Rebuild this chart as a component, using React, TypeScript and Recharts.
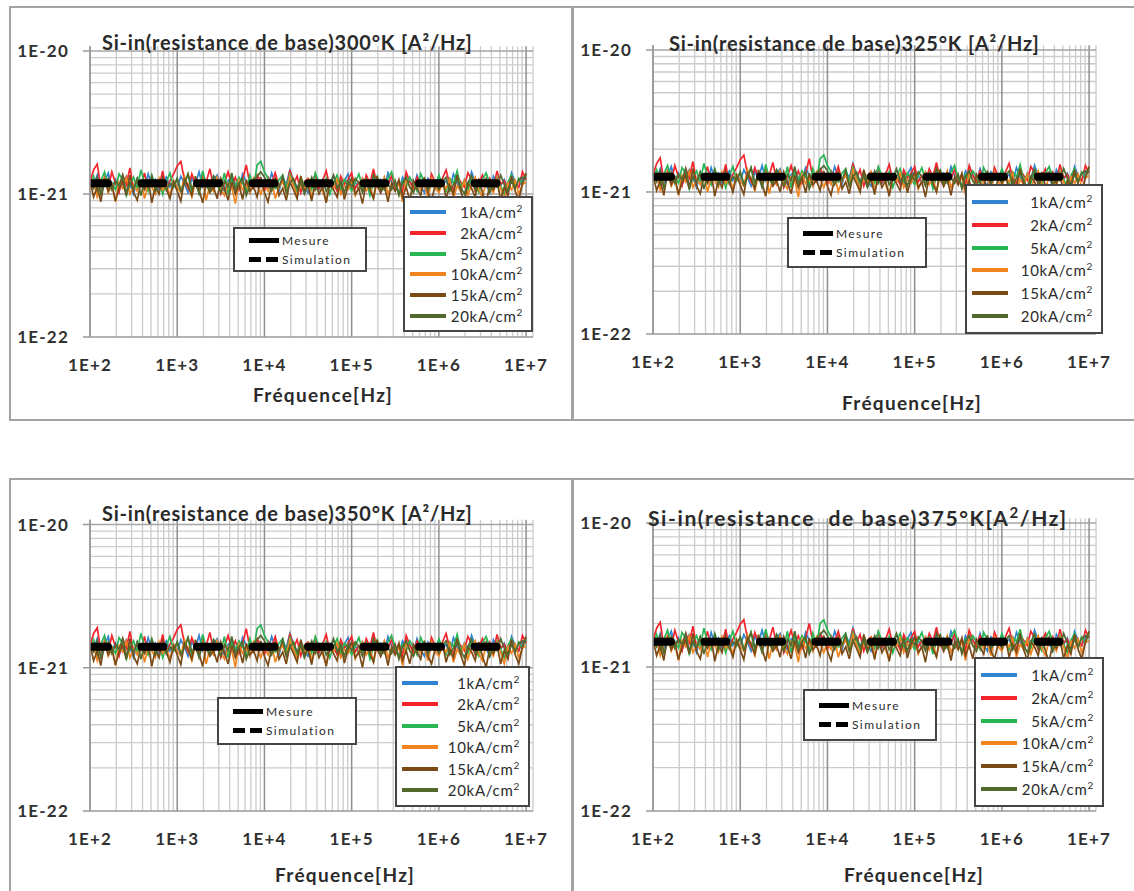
import React from "react";
import { LineChart, Line, XAxis, YAxis, ReferenceLine } from "recharts";

// frequency points (Hz), 24 per decade
const freqs = [
  100, 110, 121, 133, 147, 162, 178, 196, 215, 237, 261, 287, 316, 348, 383, 422, 464, 511, 562, 619, 681, 750, 825, 909,
  1000, 1100, 1210, 1330, 1470, 1620, 1780, 1960, 2150, 2370, 2610, 2870, 3160, 3480, 3830, 4220, 4640, 5110, 5620, 6190, 6810, 7500, 8250, 9090,
  10000, 11000, 12100, 13300, 14700, 16200, 17800, 19600, 21500, 23700, 26100, 28700, 31600, 34800, 38300, 42200, 46400, 51100, 56200, 61900, 68100, 75000, 82500, 90900,
  100000, 110000, 121000, 133000, 147000, 162000, 178000, 196000, 215000, 237000, 261000, 287000, 316000, 348000, 383000, 422000, 464000, 511000, 562000, 619000, 681000, 750000, 825000, 909000,
  1000000, 1100000, 1210000, 1330000, 1470000, 1620000, 1780000, 1960000, 2150000, 2370000, 2610000, 2870000, 3160000, 3480000, 3830000, 4220000, 4640000, 5110000, 5620000, 6190000, 6810000, 7500000, 8250000, 9090000,
  10000000,
];

// measured noise, % of the panel level
const dev1k = [
  108, 96, 114, 90, 102, 118, 94, 106, 88, 100, 112, 98, 84, 108, 102, 92, 116, 96, 106, 90, 100, 110, 94, 104,
  92, 112, 100, 86, 108, 98, 120, 94, 102, 90, 106, 114, 96, 88, 104, 110, 98, 92, 116, 102, 86, 100, 108, 96,
  106, 94, 118, 100, 88, 110, 98, 124, 104, 92, 108, 96, 86, 102, 114, 90, 100, 106, 94, 112, 98, 88, 104, 116,
  96, 102, 90, 108, 100, 86, 112, 98, 106, 92, 118, 102, 94, 88, 110, 100, 104, 92, 114, 96, 86, 108, 100, 94,
  110, 98, 104, 90, 116, 100, 88, 106, 94, 120, 102, 92, 108, 98, 86, 112, 100, 96, 106, 90, 118, 102, 94, 108,
  112,
];
const dev2k = [
  102, 124, 136, 94, 110, 92, 120, 100, 86, 114, 98, 128, 92, 106, 96, 118, 88, 108, 100, 94, 122, 90, 104, 116,
  132, 142, 106, 92, 116, 98, 88, 112, 102, 126, 94, 108, 84, 100, 120, 96, 110, 90, 106, 134, 98, 92, 114, 102,
  88, 110, 100, 118, 94, 106, 90, 124, 98, 112, 86, 102, 108, 96, 116, 92, 104, 122, 94, 100, 88, 112, 98, 106,
  118, 92, 102, 90, 114, 100, 126, 96, 86, 108, 98, 112, 94, 104, 88, 120, 102, 92, 110, 98, 106, 90, 116, 100,
  94, 108, 124, 98, 90, 112, 102, 94, 118, 106, 88, 100, 114, 96, 108, 92, 122, 98, 104, 90, 112, 100, 94, 120,
  106,
];
const dev5k = [
  96, 112, 86, 104, 120, 94, 100, 90, 116, 106, 82, 98, 110, 92, 124, 100, 88, 114, 96, 106, 84, 102, 118, 94,
  108, 90, 100, 116, 86, 104, 94, 122, 98, 88, 112, 102, 92, 118, 84, 106, 96, 110, 100, 88, 114, 94, 134, 142,
  120, 108, 96, 92, 106, 114, 92, 116, 100, 86, 110, 96, 104, 90, 118, 102, 94, 108, 84, 100, 114, 92, 106, 98,
  88, 102, 116, 94, 106, 82, 100, 112, 96, 90, 108, 120, 98, 86, 104, 94, 110, 100, 88, 116, 102, 92, 106, 96,
  114, 98, 88, 108, 100, 122, 94, 104, 90, 112, 96, 86, 106, 118, 100, 92, 110, 96, 84, 102, 114, 94, 108, 98,
  116,
];
const dev10k = [
  90, 104, 80, 96, 108, 86, 98, 74, 102, 92, 110, 84, 96, 88, 106, 78, 100, 94, 84, 108, 90, 98, 82, 104,
  94, 86, 112, 96, 80, 102, 90, 106, 76, 98, 88, 110, 92, 82, 100, 94, 72, 104, 90, 98, 86, 108, 96, 84,
  100, 88, 106, 78, 94, 102, 86, 112, 96, 82, 98, 90, 108, 80, 94, 104, 88, 76, 100, 92, 106, 84, 96, 90,
  104, 82, 94, 108, 88, 98, 78, 102, 92, 110, 84, 96, 88, 100, 74, 106, 94, 86, 102, 90, 98, 80, 108, 92,
  86, 100, 92, 106, 78, 96, 88, 104, 82, 98, 110, 90, 80, 102, 94, 86, 108, 92, 76, 100, 90, 104, 84, 98,
  102,
];
const dev15k = [
  104, 80, 94, 74, 108, 88, 98, 75, 92, 102, 82, 114, 86, 76, 100, 90, 106, 73, 96, 84, 110, 92, 78, 102,
  88, 75, 106, 96, 82, 112, 90, 73, 100, 86, 94, 78, 108, 92, 76, 102, 84, 98, 77, 106, 88, 94, 80, 110,
  86, 74, 98, 108, 82, 92, 76, 102, 90, 78, 112, 88, 96, 75, 104, 84, 94, 73, 100, 90, 80, 106, 77, 96,
  108, 84, 92, 72, 102, 90, 78, 112, 86, 96, 74, 100, 88, 106, 80, 94, 76, 104, 92, 82, 110, 86, 76, 98,
  90, 106, 78, 96, 84, 114, 88, 74, 100, 92, 80, 108, 86, 72, 98, 90, 104, 76, 94, 82, 112, 88, 76, 100,
  118,
];
const dev20k = [
  102, 92, 110, 84, 98, 108, 90, 104, 96, 114, 86, 100, 92, 108, 82, 102, 94, 112, 88, 98, 106, 90, 100, 94,
  108, 88, 98, 116, 92, 102, 84, 106, 96, 90, 112, 100, 86, 104, 94, 118, 90, 100, 108, 82, 96, 106, 112, 120,
  110, 98, 88, 104, 94, 112, 86, 100, 108, 92, 102, 84, 96, 110, 90, 100, 106, 88, 98, 114, 92, 102, 86, 104,
  94, 108, 100, 86, 102, 92, 114, 96, 88, 106, 98, 90, 104, 82, 100, 110, 94, 86, 102, 96, 108, 90, 98, 104,
  92, 102, 110, 88, 98, 106, 94, 84, 100, 112, 90, 102, 96, 108, 86, 100, 94, 114, 98, 88, 104, 92, 106, 110,
  108,
];

const densities = ["1", "2", "5", "10", "15", "20"];
const seriesColors = ["#3283d0", "#f4242c", "#27b653", "#f2841f", "#7a4a17", "#52692e"];
const temperatures = ["300", "325", "350", "375"];
const noiseLevels = [1.19e-21, 1.28e-21, 1.4e-21, 1.5e-21];
const simLevels = [1.19e-21, 1.28e-21, 1.4e-21, 1.5e-21];
const simRange = [100, 7100000];
const xTicks = [1e2, 1e3, 1e4, 1e5, 1e6, 1e7];
const yTicks = [1e-22, 1e-21, 1e-20];

const measureSeries = [dev1k, dev2k, dev5k, dev10k, dev15k, dev20k];

const X_DOMAIN = [100, 1.2e7];
const Y_DOMAIN = [1e-22, 1.08e-20];
const Y_SPAN = Math.log10(Y_DOMAIN[1] / Y_DOMAIN[0]);

// minor log grid positions
const minorX: number[] = [];
for (let e = 2; e <= 6; e++) for (let m = 2; m <= 9; m++) minorX.push(m * 10 ** e);
minorX.push(1.2e7);
const minorY: number[] = [];
for (let e = -22; e <= -21; e++) for (let m = 2; m <= 9; m++) minorY.push(m * 10 ** e);

const panels = [
  { left: 10, top: 7, h: 414, y20: 51, y22: 337, title: [102, 42], xTitle: [323, 395],
    leg1: [233, 227, 134, 45], leg2: [403, 196, 130, 136] },
  { left: 573, top: 7, h: 414, y20: 50, y22: 334, title: [669, 43], xTitle: [912, 403],
    leg1: [787, 217, 140, 51], leg2: [965, 184, 138, 150] },
  { left: 10, top: 479, h: 412, y20: 524.5, y22: 811, title: [102, 513], xTitle: [345, 875],
    leg1: [217, 697, 140, 48], leg2: [395, 666, 135, 141] },
  { left: 573, top: 479, h: 412, y20: 523, y22: 811, title: [648, 518], xTitle: [914, 875],
    leg1: [803, 689, 134, 52], leg2: [974, 657, 130, 150] },
];

const fmtExp = (v: number) => {
  const e = Math.round(Math.log10(v));
  return "1E" + (e >= 0 ? "+" + e : String(e));
};

const tickStyle = {
  fill: "#303030",
  fontSize: 17,
  fontFamily: "Lato",
  fontWeight: 700,
  letterSpacing: 1.2,
};

function Panel({ idx }: { idx: number }) {
  const p = panels[idx];
  const plotH = ((p.y22 - p.y20) * Y_SPAN) / 2;
  const plotTop = p.y22 - plotH;
  const mTop = plotTop - p.top;
  const xAxisH = 40;
  const mBottom = p.h - mTop - plotH - xAxisH;

  const seriesData = measureSeries.map((d) =>
    freqs.map((f, i) => ({ f, v: (noiseLevels[idx] * d[i]) / 100 }))
  );
  const simData = simRange.map((f) => ({ f, v: simLevels[idx] }));

  const T = temperatures[idx];
  const box = "2px solid #454545";
  const last = idx === 3;

  return (
    <>
      <div style={{ position: "absolute", left: p.left, top: p.top }}>
        <LineChart
          width={563}
          height={p.h}
          margin={{ top: mTop, right: 40, left: 0, bottom: mBottom }}
        >
          {minorX.map((v) => (
            <ReferenceLine key={"gx" + v} x={v} stroke="#cbcbcb" strokeWidth={1.3} />
          ))}
          {minorY.map((v) => (
            <ReferenceLine key={"gy" + v} y={v} stroke="#cbcbcb" strokeWidth={1.3} />
          ))}
          {xTicks.map((v) => (
            <ReferenceLine key={"vx" + v} x={v} stroke="#8f8f8f" strokeWidth={1.5} />
          ))}
          <ReferenceLine y={1e-21} stroke="#a5a5a5" strokeWidth={1.4} />
          <ReferenceLine y={1e-20} stroke="#a5a5a5" strokeWidth={1.4} />
          <XAxis
            dataKey="f"
            type="number"
            scale="log"
            domain={X_DOMAIN}
            allowDataOverflow
            ticks={xTicks}
            tickFormatter={fmtExp}
            tick={tickStyle}
            tickLine={false}
            tickSize={0}
            tickMargin={22}
            height={xAxisH}
            axisLine={{ stroke: "#9a9a9a", strokeWidth: 1.5 }}
          />
          <YAxis
            dataKey="v"
            type="number"
            scale="log"
            domain={Y_DOMAIN}
            allowDataOverflow
            ticks={yTicks}
            tickFormatter={fmtExp}
            tick={tickStyle}
            tickSize={7}
            tickMargin={14}
            width={80}
            tickLine={{ stroke: "#9a9a9a", strokeWidth: 1.5 }}
            axisLine={{ stroke: "#9a9a9a", strokeWidth: 1.5 }}
          />
          {seriesData.map((d, k) => (
            <Line
              key={"m" + k}
              data={d}
              dataKey="v"
              name={densities[k] + "kA/cm²"}
              type="linear"
              stroke={seriesColors[k]}
              strokeWidth={1.7}
              dot={false}
              isAnimationActive={false}
            />
          ))}
          <Line
            data={simData}
            dataKey="v"
            name="Simulation"
            type="linear"
            stroke="#000"
            strokeWidth={8}
            strokeDasharray="22 33.5"
            strokeDashoffset={4}
            strokeLinecap="round"
            dot={false}
            isAnimationActive={false}
          />
        </LineChart>
      </div>

      {/* chart title */}
      <div
        style={{
          position: "absolute",
          left: p.title[0],
          top: p.title[1] - 12,
          lineHeight: "24px",
          fontSize: last ? 21 : 20,
          fontWeight: 700,
          letterSpacing: last ? 1.6 : 0.8,
          color: "#2a2a2a",
          whiteSpace: "nowrap",
        }}
      >
        {last ? (
          <>
            Si-in(resistance&nbsp; de base)375°K[A<sup style={{ fontSize: 15, lineHeight: 0 }}>2</sup>/Hz]
          </>
        ) : (
          `Si-in(resistance de base)${T}°K [A²/Hz]`
        )}
      </div>

      {/* x axis title */}
      <div
        style={{
          position: "absolute",
          left: p.xTitle[0] - 100,
          width: 200,
          textAlign: "center",
          top: p.xTitle[1] - 12,
          lineHeight: "24px",
          fontSize: 19,
          fontWeight: 700,
          letterSpacing: 1.3,
          color: "#2a2a2a",
        }}
      >
        Fréquence[Hz]
      </div>

      {/* Mesure / Simulation legend */}
      <div
        style={{
          position: "absolute",
          left: p.leg1[0],
          top: p.leg1[1],
          width: p.leg1[2],
          height: p.leg1[3],
          boxSizing: "border-box",
          border: box,
          background: "#fff",
          display: "flex",
          flexDirection: "column",
          justifyContent: "center",
          gap: 5,
          paddingLeft: 14,
          fontSize: 12,
          letterSpacing: 1.4,
          color: "#2b2b2b",
        }}
      >
        <div style={{ display: "flex", alignItems: "center", height: 14 }}>
          <span style={{ width: 30, height: 5, background: "#000", marginRight: 3 }} />
          Mesure
        </div>
        <div style={{ display: "flex", alignItems: "center", height: 14 }}>
          <span style={{ width: 12, height: 5, background: "#000", marginRight: 5 }} />
          <span style={{ width: 12, height: 5, background: "#000", marginRight: 4 }} />
          Simulation
        </div>
      </div>

      {/* current density legend */}
      <div
        style={{
          position: "absolute",
          left: p.leg2[0],
          top: p.leg2[1],
          width: p.leg2[2],
          height: p.leg2[3],
          boxSizing: "border-box",
          border: box,
          background: "#fff",
          display: "flex",
          flexDirection: "column",
          justifyContent: "space-evenly",
          padding: "3px 8px 3px 5px",
          fontSize: 15,
          letterSpacing: 0.7,
          color: "#2b2b2b",
        }}
      >
        {densities.map((d, k) => (
          <div key={d} style={{ display: "flex", alignItems: "center", height: 20 }}>
            <span style={{ width: 36, height: 4, background: seriesColors[k] }} />
            <span style={{ flex: 1, textAlign: "right", whiteSpace: "nowrap" }}>
              {d}kA/cm<sup style={{ fontSize: 10, lineHeight: 0 }}>2</sup>
            </span>
          </div>
        ))}
      </div>
    </>
  );
}

export default function App() {
  return (
    <div
      style={{
        position: "absolute",
        left: 0,
        top: 0,
        width: 1134,
        height: 891,
        overflow: "hidden",
        background: "#fff",
        fontFamily: "Lato, sans-serif",
      }}
    >
      {/* panel frames */}
      <div style={{ position: "absolute", left: 9, top: 6, width: 564, height: 415, border: "2px solid #a3a3a3", boxSizing: "border-box" }} />
      <div style={{ position: "absolute", left: 572, top: 6, width: 600, height: 415, border: "2px solid #a3a3a3", boxSizing: "border-box" }} />
      <div style={{ position: "absolute", left: 9, top: 478, width: 564, height: 500, border: "2px solid #a3a3a3", boxSizing: "border-box" }} />
      <div style={{ position: "absolute", left: 572, top: 478, width: 600, height: 500, border: "2px solid #a3a3a3", boxSizing: "border-box" }} />
      {panels.map((_, i) => (
        <Panel key={i} idx={i} />
      ))}
    </div>
  );
}
